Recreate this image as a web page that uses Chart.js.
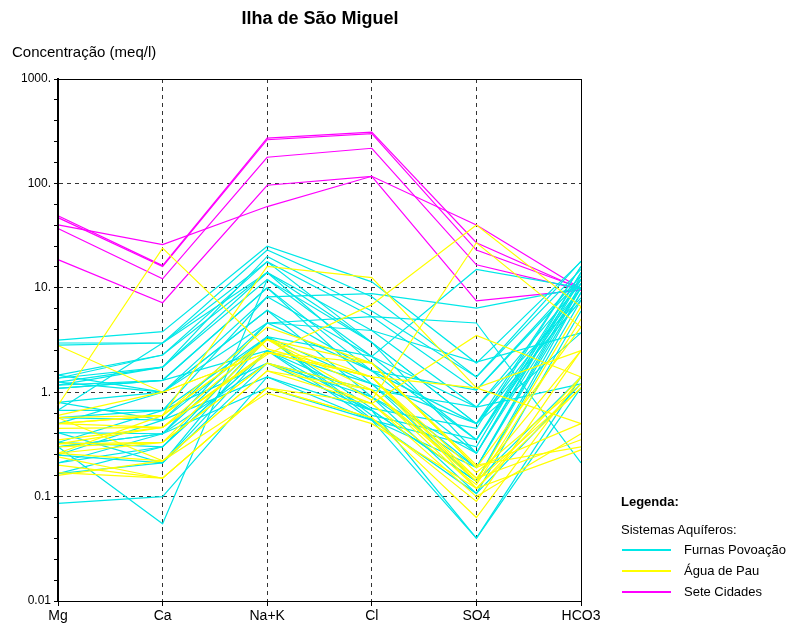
<!DOCTYPE html>
<html lang="pt">
<head>
<meta charset="UTF-8">
<title>Ilha de São Miguel</title>
<script src="https://cdn.jsdelivr.net/npm/chart.js"></script>
<style>
  body { margin: 0; background: #fff; font-family: "Liberation Sans", Arial, sans-serif; }
  #wrap { position: relative; width: 795px; height: 631px; }
  canvas { position: absolute; left: 0; top: 0; }
  .txt { position: absolute; white-space: nowrap; color: #000; }
  #title { left: 0; width: 640px; text-align: center; top: 8px; font-size: 18px; font-weight: bold; }
  #ytitle { left: 12px; top: 43px; font-size: 15px; }
  .leg { font-size: 13px; line-height: 16px; }
  .swatch { position: absolute; left: 622px; width: 49px; height: 2px; }
</style>
</head>
<body>
<div id="wrap">
  <canvas id="schoeller" width="795" height="631"></canvas>
  <div class="txt" id="title">Ilha de São Miguel</div>
  <div class="txt" id="ytitle">Concentração (meq/l)</div>
  <div class="txt leg" style="left:621px; top:494px; font-weight:bold;">Legenda:</div>
  <div class="txt leg" style="left:621px; top:522px;">Sistemas Aquíferos:</div>
  <div class="swatch" style="top:549px; background:#00e8e8;"></div>
  <div class="txt leg" style="left:684px; top:542px;">Furnas Povoação</div>
  <div class="swatch" style="top:570px; background:#ffff00;"></div>
  <div class="txt leg" style="left:684px; top:563px;">Água de Pau</div>
  <div class="swatch" style="top:591px; background:#ff00ff;"></div>
  <div class="txt leg" style="left:684px; top:584px;">Sete Cidades</div>
</div>
<script>
// ions on the x axis
const ions = ['Mg', 'Ca', 'Na+K', 'Cl', 'SO4', 'HCO3'];

// each row = one sample, values in meq/l in the order of ions
const furnasPovoacao = [
  [3.16, 3.8, 25, 11.4, 1.9, 17.8],
  [2.96, 2.96, 23, 8.2, 1.4, 15],
  [2.83, 2.96, 17.8, 5.3, 1.05, 12],
  [1.46, 2.27, 14, 3.9, 0.72, 11],
  [1.36, 1.74, 14, 3.0, 0.5, 10],
  [1.25, 1.74, 12, 2.2, 0.35, 10],
  [1.17, 1.3, 10, 1.6, 0.26, 13],
  [1.09, 1.3, 10, 1.2, 0.19, 9],
  [1.36, 2.27, 17.8, 3.0, 0.5, 16],
  [1.25, 1.0, 8.2, 2.2, 0.72, 8],
  [0.80, 1.0, 6.1, 1.6, 0.5, 7.6],
  [0.67, 0.67, 8.2, 8.8, 6.4, 10],
  [0.57, 0.54, 4.6, 5.3, 4.6, 0.21],
  [0.41, 0.40, 4.6, 3.9, 1.94, 3.7],
  [0.33, 0.30, 3.4, 2.2, 15, 10],
  [0.30, 0.40, 3.4, 1.2, 0.14, 1.4],
  [0.25, 0.21, 2.5, 0.9, 0.107, 1.2],
  [0.21, 0.30, 2.5, 0.67, 0.14, 7.6],
  [0.166, 0.21, 1.9, 0.67, 0.04, 1.1],
  [0.086, 0.10, 1.4, 0.54, 0.04, 1.4],
  [0.30, 0.055, 12, 3.0, 0.26, 12],
  [0.57, 0.67, 1.9, 0.9, 0.19, 10],
  [0.25, 0.54, 1.4, 0.67, 0.14, 9],
  [0.21, 0.40, 1.1, 0.54, 0.107, 6],
  [1.17, 1.74, 20, 6.0, 1.4, 18],
  [0.67, 2.96, 14, 1.9, 0.35, 14],
  [0.33, 0.67, 3.4, 0.6, 0.35, 12],
  [0.50, 1.0, 6.1, 0.9, 0.26, 10],
  [1.09, 1.3, 2.5, 1.2, 0.5, 3.7],
  [0.80, 0.54, 3.4, 0.55, 0.19, 11],
  [0.30, 0.40, 1.9, 1.05, 0.72, 1.2],
  [1.46, 1.0, 4.6, 1.6, 1.05, 13],
  [0.166, 0.30, 2.5, 0.54, 0.3, 14],
  [0.41, 0.21, 3.4, 0.7, 0.45, 16]
];

const aguaDePau = [
  [0.75, 24, 2.6, 1.4, 0.14, 1.1],
  [2.8, 1.0, 2.4, 1.4, 0.12, 1.4],
  [0.50, 0.60, 16, 12.5, 1.1, 2.5],
  [0.32, 0.46, 2.3, 6.9, 40, 6.6],
  [0.26, 0.33, 3.2, 0.84, 27, 4.2],
  [0.57, 0.60, 3.2, 1.9, 0.19, 0.5],
  [0.50, 0.46, 2.4, 1.4, 0.15, 0.35],
  [0.32, 0.33, 1.9, 1.05, 0.12, 0.28],
  [0.26, 0.22, 1.6, 0.78, 0.10, 0.4],
  [0.24, 0.15, 1.1, 0.57, 0.063, 1.4],
  [0.16, 0.22, 0.98, 0.5, 0.12, 1.1],
  [0.17, 0.15, 1.1, 0.57, 0.09, 2.5],
  [0.50, 0.60, 4.2, 1.9, 0.19, 4.2],
  [0.45, 0.46, 3.2, 1.05, 0.14, 6.6],
  [0.60, 1.0, 2.4, 1.4, 1.1, 0.5],
  [0.30, 0.33, 1.9, 0.78, 3.5, 1.4],
  [0.57, 0.22, 1.6, 1.05, 0.15, 2.5],
  [0.26, 0.60, 3.2, 1.4, 0.17, 1.2],
  [0.20, 0.15, 1.1, 0.78, 0.13, 5],
  [0.35, 0.46, 2.4, 1.9, 0.2, 0.3]
];

const seteCidades = [
  [49, 16.3, 272, 310, 27, 9.7],
  [47, 16, 262, 300, 23, 9.9],
  [37, 12.2, 178, 217, 16.6, 9.6],
  [18.6, 7.2, 96, 117, 7.5, 9.5],
  [40, 25.9, 60, 117, 40, 9.8]
];

// decade labels on the y axis, from 0.01 upwards
const yLabels = ['0.01', '0.1', '1.', '10.', '100.', '1000.'];

function toSets(rows, color) {
  return rows.map(r => ({
    data: r,
    borderColor: color,
    borderWidth: 1.2,
    pointRadius: 0,
    tension: 0,
    fill: false
  }));
}

const datasets = [].concat(
  toSets(aguaDePau, '#ffff00'),
  toSets(furnasPovoacao, '#00e8e8'),
  toSets(seteCidades, '#ff00ff')
);

function decadeIndex(v) {
  const l = Math.log10(v);
  if (Math.abs(l - Math.round(l)) > 1e-6) return -1;
  return Math.round(l) + 2;
}

const frame = {
  id: 'frame',
  afterDatasetsDraw(chart) {
    const a = chart.chartArea, ctx = chart.ctx;
    ctx.save();
    ctx.strokeStyle = '#000';
    ctx.lineWidth = 1;
    ctx.strokeRect(a.left + 0.5, a.top + 0.5, a.right - a.left, a.bottom - a.top);
    ctx.restore();
  }
};

new Chart(document.getElementById('schoeller'), {
  type: 'line',
  data: { labels: ions, datasets: datasets },
  plugins: [frame],
  options: {
    responsive: false,
    animation: false,
    layout: { padding: { left: 0, top: 79, right: 214, bottom: 0 } },
    plugins: { legend: { display: false }, title: { display: false }, tooltip: { enabled: false } },
    scales: {
      x: {
        type: 'category',
        offset: false,
        afterFit: s => { s.height = 30; },
        grid: {
          color: c => (c.index === 0 || c.index === ions.length - 1) ? 'rgba(0,0,0,0)' : '#333',
          tickColor: '#000',
          tickLength: 5,
          drawTicks: true
        },
        border: { display: true, color: '#000', width: 1, dash: [4, 4] },
        ticks: { color: '#000', font: { family: 'Liberation Sans', size: 14 }, padding: 2, maxRotation: 0, autoSkip: false }
      },
      y: {
        type: 'logarithmic',
        min: 0.01,
        max: 1000,
        afterFit: s => { s.width = 58; },
        afterBuildTicks: s => {
          const t = [];
          for (let k = -10; k <= 15; k++) t.push({ value: Math.pow(10, k / 5) });
          s.ticks = t;
        },
        grid: {
          color: c => {
            const i = decadeIndex(c.tick.value);
            return (i <= 0 || i >= 5) ? 'rgba(0,0,0,0)' : '#333';
          },
          tickColor: '#000',
          tickLength: 4,
          drawTicks: true
        },
        border: { display: true, color: '#000', width: 2, dash: [4, 4] },
        ticks: {
          color: '#000',
          font: { family: 'Liberation Sans', size: 12 },
          padding: 3,
          autoSkip: false,
          callback: v => {
            const i = decadeIndex(v);
            return i >= 0 ? yLabels[i] : '';
          }
        }
      }
    }
  }
});
</script>
</body>
</html>
